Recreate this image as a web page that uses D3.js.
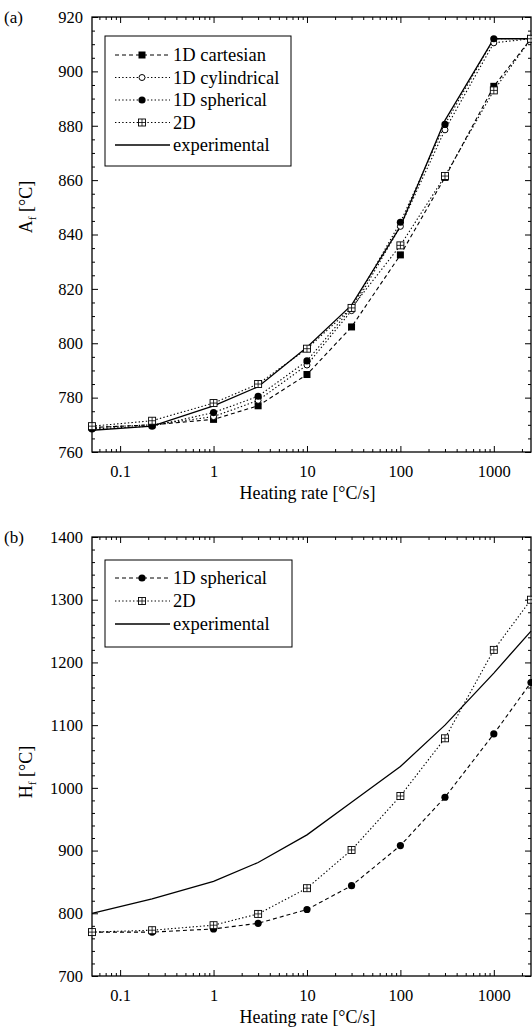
<!DOCTYPE html>
<html>
<head>
<meta charset="utf-8">
<script src="https://cdn.jsdelivr.net/npm/d3@7"></script>
<style>
  body { margin: 0; background: #fff; }
  svg text { font-family: "Liberation Serif", "DejaVu Serif", serif; fill: #000; }
</style>
</head>
<body>
<div id="chart"></div>
<script>
/* ---------- data ---------- */

const rates = [0.05, 0.22, 1, 3, 10, 30, 100, 300, 1000, 2500];

// panel (a): A_f
const aCartesian   = [769, 770, 772, 777, 788.5, 806, 832.5, 861, 894.5, 912];
const aCylindrical = [769, 770, 773, 779, 792, 812, 843, 878.5, 910.5, 912];
const aSpherical   = [768.5, 769.5, 774.5, 780.5, 793.5, 813, 844.5, 880.5, 912, 912];
const a2D          = [769.5, 771.5, 778, 785, 798, 813, 836, 861.5, 893, 912];
const aExperiment  = [768, 769.5, 777, 784, 798.5, 814, 843, 882, 912, 912];

// panel (b): H_f
const bSpherical  = [770, 770, 775, 784, 806, 844, 908, 985, 1086, 1168];
const b2D         = [770, 773, 781, 799, 840, 901, 987, 1079, 1220, 1300];
const bExperiment = [800, 823, 851, 881, 925, 977, 1034, 1100, 1183, 1250];

const xTicks = [0.1, 1, 10, 100, 1000];
const aYTicks = [760, 780, 800, 820, 840, 860, 880, 900, 920];
const bYTicks = [700, 800, 900, 1000, 1100, 1200, 1300, 1400];

/* ---------- setup ---------- */

const W = 532, H = 1029;
const svg = d3.select("#chart").append("svg")
  .attr("width", W).attr("height", H);

const DASH = "4 3";
const DOT = "1.4 2.2";

// minor ticks of a log axis: 2..9 times each decade
function logMinors(lo, hi) {
  const out = [];
  for (let e = -2; e <= 4; e++) {
    for (let m = 2; m <= 9; m++) {
      const v = m * Math.pow(10, e);
      if (v > lo && v < hi) out.push(v);
    }
  }
  return out;
}

function marker(g, type, x, y) {
  if (type === "square") {
    g.append("rect").attr("x", x - 3.5).attr("y", y - 3.5)
      .attr("width", 7).attr("height", 7).attr("fill", "#000");
  } else if (type === "open") {
    g.append("circle").attr("cx", x).attr("cy", y).attr("r", 3)
      .attr("fill", "#fff").attr("stroke", "#000").attr("stroke-width", 1);
  } else if (type === "dot") {
    g.append("circle").attr("cx", x).attr("cy", y).attr("r", 3.6)
      .attr("fill", "#000");
  } else if (type === "box") {
    g.append("rect").attr("x", x - 3.5).attr("y", y - 3.5)
      .attr("width", 7).attr("height", 7)
      .attr("fill", "#fff").attr("stroke", "#000").attr("stroke-width", 0.9);
    g.append("path")
      .attr("d", `M${x - 3.5},${y}H${x + 3.5}M${x},${y - 3.5}V${y + 3.5}`)
      .attr("stroke", "#000").attr("stroke-width", 0.8);
  }
}

function drawPanel(cfg) {
  const { top, bottom, left, right, yDomain, yTicks, yMinorStep, series, label, ylab } = cfg;

  const x = d3.scaleLog().domain([0.05, 2500]).range([left, right]);
  const y = d3.scaleLinear().domain(yDomain).range([bottom, top]);
  const g = svg.append("g");

  const yMinors = d3.range(yDomain[0], yDomain[1] + 0.001, yMinorStep)
    .filter(v => !yTicks.includes(v));
  const xMinors = logMinors(0.05, 2500);
  const fmt = d => String(d);

  // axes: ticks pointing inward on all four sides
  const axes = [
    [d3.axisBottom(x).tickValues(xTicks).tickSize(-6).tickPadding(13).tickFormat(fmt), `translate(0,${bottom})`],
    [d3.axisBottom(x).tickValues(xMinors).tickSize(-3).tickFormat(""), `translate(0,${bottom})`],
    [d3.axisTop(x).tickValues(xTicks).tickSize(-6).tickFormat(""), `translate(0,${top})`],
    [d3.axisTop(x).tickValues(xMinors).tickSize(-3).tickFormat(""), `translate(0,${top})`],
    [d3.axisLeft(y).tickValues(yTicks).tickSize(-6).tickPadding(9).tickFormat(fmt), `translate(${left},0)`],
    [d3.axisLeft(y).tickValues(yMinors).tickSize(-3).tickFormat(""), `translate(${left},0)`],
    [d3.axisRight(y).tickValues(yTicks).tickSize(-6).tickFormat(""), `translate(${right},0)`],
    [d3.axisRight(y).tickValues(yMinors).tickSize(-3).tickFormat(""), `translate(${right},0)`]
  ];
  axes.forEach(([ax, tr]) => {
    const a = g.append("g").attr("transform", tr).call(ax);
    a.select(".domain").remove();
    a.selectAll("line").attr("stroke", "#000").attr("stroke-width", 1);
    a.selectAll("text").style("font-family", "Liberation Serif, serif")
      .style("font-size", "16.5px").attr("fill", "#000");
  });

  // frame
  g.append("rect")
    .attr("x", left).attr("y", top)
    .attr("width", right - left).attr("height", bottom - top)
    .attr("fill", "none").attr("stroke", "#000").attr("stroke-width", 1.3);

  // series
  series.forEach(s => {
    const line = d3.line().x((d, i) => x(rates[i])).y(d => y(d));
    g.append("path").datum(s.values)
      .attr("d", line)
      .attr("fill", "none").attr("stroke", "#000")
      .attr("stroke-width", s.marker ? 1.1 : 1.3)
      .attr("stroke-dasharray", s.dash || null);
  });
  series.forEach(s => {
    if (!s.marker) return;
    s.values.forEach((v, i) => marker(g, s.marker, x(rates[i]), y(v)));
  });

  // legend
  const lg = cfg.legend;
  g.append("rect")
    .attr("x", lg.x).attr("y", lg.y).attr("width", lg.w).attr("height", lg.h)
    .attr("fill", "#fff").attr("stroke", "#000").attr("stroke-width", 1);
  series.forEach((s, i) => {
    const yy = lg.y + lg.first + i * lg.step;
    g.append("line")
      .attr("x1", lg.x + 10).attr("x2", lg.x + 65)
      .attr("y1", yy).attr("y2", yy)
      .attr("stroke", "#000").attr("stroke-width", s.marker ? 1 : 1.3)
      .attr("stroke-dasharray", s.dash || null);
    if (s.marker) marker(g, s.marker, lg.x + 37, yy);
    g.append("text")
      .attr("x", lg.x + 68).attr("y", yy + 6)
      .style("font-size", "18.5px")
      .text(s.name);
  });

  // panel label
  g.append("text").attr("x", 4).attr("y", top + 6)
    .style("font-size", "17px").text(label);

  // axis titles
  g.append("text")
    .attr("x", (left + right) / 2 - 4).attr("y", bottom + 47)
    .attr("text-anchor", "middle")
    .style("font-size", "18px")
    .text("Heating rate [°C/s]");

  const yt = g.append("text")
    .attr("transform", `translate(32,${cfg.ylabY}) rotate(-90)`)
    .attr("text-anchor", "middle")
    .style("font-size", "18px");
  yt.append("tspan").text(ylab);
  yt.append("tspan").attr("dy", 4).style("font-size", "11px").text("f");
  yt.append("tspan").attr("dy", -4).text(" [°C]");
}

drawPanel({
  top: 17, bottom: 452, left: 92, right: 531,
  yDomain: [760, 920], yTicks: aYTicks, yMinorStep: 5,
  label: "(a)", ylab: "A", ylabY: 207,
  legend: { x: 105, y: 36, w: 186, h: 130, first: 19, step: 22.5 },
  series: [
    { name: "1D cartesian",   values: aCartesian,   dash: DASH, marker: "square" },
    { name: "1D cylindrical", values: aCylindrical, dash: DOT,  marker: "open" },
    { name: "1D spherical",   values: aSpherical,   dash: DOT,  marker: "dot" },
    { name: "2D",             values: a2D,          dash: DOT,  marker: "box" },
    { name: "experimental",   values: aExperiment,  dash: null, marker: null }
  ]
});

drawPanel({
  top: 537, bottom: 976, left: 92, right: 531,
  yDomain: [700, 1400], yTicks: bYTicks, yMinorStep: 20,
  label: "(b)", ylab: "H", ylabY: 772,
  legend: { x: 105, y: 560, w: 187, h: 87, first: 18, step: 23 },
  series: [
    { name: "1D spherical", values: bSpherical,  dash: DASH, marker: "dot" },
    { name: "2D",           values: b2D,         dash: DOT,  marker: "box" },
    { name: "experimental", values: bExperiment, dash: null, marker: null }
  ]
});
</script>
</body>
</html>
